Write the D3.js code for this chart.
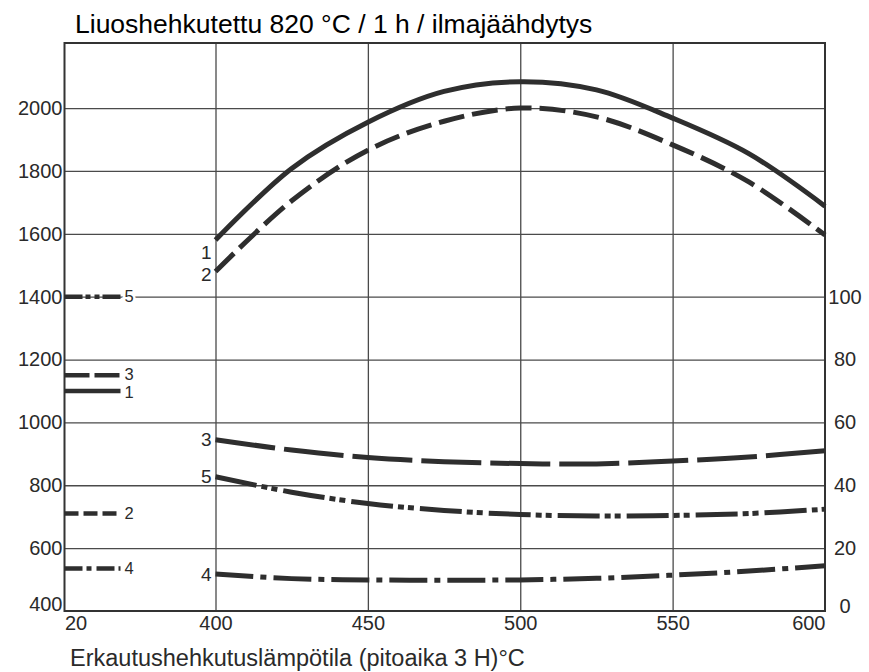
<!DOCTYPE html>
<html>
<head>
<meta charset="utf-8">
<script src="https://cdnjs.cloudflare.com/ajax/libs/d3/7.8.5/d3.min.js"></script>
<style>
  body { margin: 0; background: #fff; }
  svg { display: block; font-family: "Liberation Sans", Arial, sans-serif; }
  .grid line { stroke: #4a4a4a; stroke-width: 1.3; }
  .grid path { display: none; }
  .tick-label text { fill: #2a2a2a; font-size: 20px; }
  .curve { fill: none; stroke: #2e2e2e; stroke-width: 5; stroke-linecap: butt; }
  .stub { fill: none; stroke: #2e2e2e; stroke-width: 4.5; }
  .num { fill: #2a2a2a; font-size: 19px; }
  .stub-num { font-size: 16.5px; }
</style>
</head>
<body>
<div id="chart"></div>
<script>
// == Data ====================================================================

const title = 'Liuoshehkutettu 820 °C / 1 h / ilmajäähdytys'
const xTitle = 'Erkautushehkutuslämpötila (pitoaika 3 H)°C'

// aging temperature (°C); 20 = annealed state
const temps = [400, 425, 450, 475, 500, 525, 550, 575, 600]
const xTickValues = [20, 400, 450, 500, 550, 600]

// left axis (N/mm²)
const curve1 = [1580, 1808, 1955, 2053, 2084, 2058, 1968, 1855, 1688]
const curve2 = [1480, 1705, 1866, 1958, 2000, 1972, 1883, 1765, 1596]
// right axis
const curve3 = [54.5, 51.2, 48.8, 47.5, 46.9, 46.8, 47.7, 49.0, 51.0]
const curve4 = [11.8, 10.3, 9.9, 9.8, 9.9, 10.4, 11.4, 12.7, 14.4]
const curve5 = [42.7, 37.8, 34.2, 32.0, 30.7, 30.2, 30.4, 31.0, 32.4]

// annealed state values (stubs at 20 °C)
const stubNames = ['5', '3', '1', '2', '4']
const stubValues = [100, 75, 1100, 710, 13.5]

const leftTicks = [400, 600, 800, 1000, 1200, 1400, 1600, 1800, 2000]
const rightTicks = [0, 20, 40, 60, 80, 100]

// == Layout ==================================================================

const W = 869, H = 672
const mLeft = 64.5, mRight = 825, mTop = 43, mBottom = 611

const svg = d3.select('#chart').append('svg')
  .attr('width', W)
  .attr('height', H)

// broken x axis: 20 sits at the left edge, 400..600 linear
const x = d3.scaleLinear().domain([20, 400, 600]).range([mLeft, 215.5, mRight])
const y = d3.scaleLinear().domain([400, 2207]).range([mBottom, mTop])
const yR = d3.scaleLinear().domain([0, 100]).range([y(400), y(1400)])

const series = [
  { name: '1', values: curve1, scale: y, dash: null, stubDash: null, labelDy: 12, stubDy: 1.5 },
  { name: '2', values: curve2, scale: y, dash: '26,8', stubDash: '14,5', labelDy: 3, stubDy: 0 },
  { name: '3', values: curve3, scale: yR, dash: '60,9', stubDash: '25,5', labelDy: 0, stubDy: -1.5 },
  { name: '4', values: curve4, scale: yR, dash: '38,7,6,7', stubDash: '18,4,5,5', labelDy: 0, stubDy: 0 },
  { name: '5', values: curve5, scale: yR, dash: '42,5,6,4,6,6', stubDash: '18,3,5,4,5,3', labelDy: 0, stubDy: 0 }
]

// == Grid ====================================================================

svg.append('g')
  .attr('class', 'grid')
  .attr('transform', `translate(${mLeft},0)`)
  .call(d3.axisLeft(y).tickValues(leftTicks.filter(d => d > 400)).tickSize(-(mRight - mLeft)).tickFormat(''))

svg.append('g')
  .attr('class', 'grid')
  .attr('transform', `translate(0,${mBottom})`)
  .call(d3.axisBottom(x).tickValues([400, 450, 500, 550]).tickSize(-(mBottom - mTop)).tickFormat(''))

svg.append('rect')
  .attr('x', mLeft).attr('y', mTop)
  .attr('width', mRight - mLeft).attr('height', mBottom - mTop)
  .attr('fill', 'none')
  .attr('stroke', '#333')
  .attr('stroke-width', 2)

// == Axes labels =============================================================

const yAxis = svg.append('g')
  .attr('class', 'tick-label')
  .attr('transform', `translate(${mLeft - 2},0)`)
  .call(d3.axisLeft(y).tickValues(leftTicks).tickSize(0).tickPadding(0).tickFormat(d3.format('d')))
yAxis.select('.domain').remove()
yAxis.selectAll('text').attr('dy', d => d === 400 ? '-0.05em' : '0.32em')

const yAxisR = svg.append('g')
  .attr('class', 'tick-label')
  .attr('transform', `translate(${mRight + 20},0)`)
  .call(d3.axisRight(yR).tickValues(rightTicks).tickSize(0).tickPadding(0))
yAxisR.select('.domain').remove()
yAxisR.selectAll('text').attr('text-anchor', 'middle').attr('dy', d => d === 0 ? '0.05em' : '0.32em')

const xAxis = svg.append('g')
  .attr('class', 'tick-label')
  .attr('transform', `translate(0,${mBottom})`)
  .call(d3.axisBottom(x).tickValues(xTickValues).tickSize(0).tickPadding(5))
xAxis.select('.domain').remove()
xAxis.selectAll('text')
  .attr('text-anchor', d => d === 20 ? 'start' : d === 600 ? 'end' : 'middle')

svg.append('text')
  .attr('x', 75).attr('y', 33)
  .attr('font-size', 26.5)
  .attr('fill', '#000')
  .text(title)

svg.append('text')
  .attr('x', 70).attr('y', 666)
  .attr('font-size', 23.5)
  .attr('fill', '#2a2a2a')
  .text(xTitle)

// == Curves ==================================================================

const line = d3.line().curve(d3.curveCatmullRom)

series.forEach(s => {
  svg.append('path')
    .attr('class', 'curve')
    .attr('stroke-dasharray', s.dash)
    .attr('d', line(temps.map((t, i) => [x(t), s.scale(s.values[i])])))

  svg.append('text')
    .attr('class', 'num')
    .attr('x', x(400) - 4)
    .attr('y', s.scale(s.values[0]) + s.labelDy)
    .attr('dy', '0.35em')
    .attr('text-anchor', 'end')
    .text(s.name)
})

// annealed-state stubs
const stubLen = 56
stubNames.forEach((n, i) => {
  const s = series.find(d => d.name === n)
  const sy = s.scale(stubValues[i])
  svg.append('line')
    .attr('class', 'stub')
    .attr('x1', x(20)).attr('x2', x(20) + stubLen)
    .attr('y1', sy).attr('y2', sy)
    .attr('stroke-dasharray', s.stubDash)

  svg.append('text')
    .attr('class', 'num stub-num')
    .attr('x', x(20) + stubLen + 4)
    .attr('y', sy + s.stubDy)
    .attr('dy', '0.35em')
    .attr('stroke', '#fff')
    .attr('stroke-width', 5)
    .attr('paint-order', 'stroke')
    .text(n)
})
</script>
</body>
</html>
